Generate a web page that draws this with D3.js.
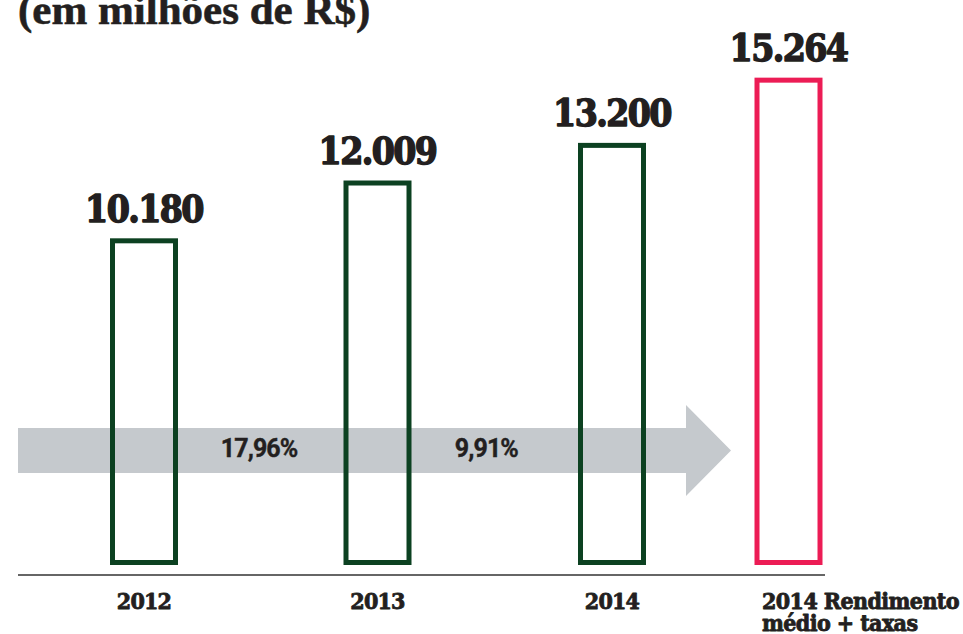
<!DOCTYPE html>
<html><head><meta charset="utf-8">
<script src="https://cdn.jsdelivr.net/npm/d3@7"></script>
<style>body{margin:0;background:#fff;overflow:hidden}</style></head>
<body>
<svg id="c" width="963" height="634"></svg>
<script>
const titleText = "(em milhões de R$)";
const categories = ["2012", "2013", "2014", "2014 Rendimento médio + taxas"];
const values = [10180, 12009, 13200, 15264];
const valueLabels = ["10.180", "12.009", "13.200", "15.264"];
const categoryLines = [["2012"], ["2013"], ["2014"], ["2014 Rendimento", "médio + taxas"]];
const growthLabels = ["17,96%", "9,91%"];
const barColors = ["#0c4121", "#0c4121", "#0c4121", "#ec1c55"];

const svg = d3.select("#c");
const baseY = 562.5;
const x = d3.scaleOrdinal().domain(categories).range([144, 377.5, 612, 788.5]);
const y = d3.scaleLinear().domain([0, 16000]).range([baseY, baseY - 0.0316 * 16000]);
const barW = 63;
const slabFont = "'DejaVu Serif Condensed', 'DejaVu Serif', serif";
const ink = "#231f20";

// title
svg.append("text").attr("x", 18).attr("y", 24)
  .attr("font-family", "'Liberation Serif', serif").attr("font-weight", "bold")
  .attr("font-size", 43).attr("fill", ink)
  .attr("stroke", ink).attr("stroke-width", 0.6).text(titleText);

// gray arrow
const ax0 = 18, ax1 = 686, axTip = 731, bTop = 428, bBot = 473, hTop = 405, hBot = 496;
svg.append("path")
  .attr("d", `M${ax0},${bTop}H${ax1}V${hTop}L${axTip},${(hTop+hBot)/2}L${ax1},${hBot}V${bBot}H${ax0}Z`)
  .attr("fill", "#c5c9cd");

// growth labels
svg.selectAll("text.g").data(growthLabels).join("text").attr("class", "g")
  .attr("x", (d, i) => (x(categories[i]) + x(categories[i + 1])) / 2 - 40)
  .attr("y", 457)
  .attr("font-family", "Roboto, sans-serif").attr("font-weight", "bold")
  .attr("font-size", 25).attr("letter-spacing", -0.9).attr("fill", ink)
  .attr("stroke", ink).attr("stroke-width", 0.4)
  .text(d => d);

// bars
svg.selectAll("rect.bar").data(values).join("rect").attr("class", "bar")
  .attr("x", (d, i) => x(categories[i]) - barW / 2)
  .attr("y", d => y(d))
  .attr("width", barW)
  .attr("height", d => baseY - y(d))
  .attr("fill", "none")
  .attr("stroke", (d, i) => barColors[i])
  .attr("stroke-width", 5);

// value labels
svg.selectAll("text.v").data(values).join("text").attr("class", "v")
  .attr("x", (d, i) => x(categories[i]))
  .attr("y", d => y(d) - 19)
  .attr("text-anchor", "middle")
  .attr("font-family", slabFont).attr("font-weight", "bold")
  .attr("font-stretch", "condensed")
  .attr("font-size", 37).attr("letter-spacing", -1.6).attr("fill", ink)
  .attr("stroke", ink).attr("stroke-width", 1.4).attr("stroke-linejoin", "round")
  .text((d, i) => valueLabels[i]);

// baseline
svg.append("line").attr("x1", 18).attr("x2", 825).attr("y1", 575).attr("y2", 575)
  .attr("stroke", "#333").attr("stroke-width", 1.5);

// category labels
categories.forEach((c, i) => {
  const lines = categoryLines[i];
  const multi = lines.length > 1;
  const t = svg.append("text")
    .attr("font-family", slabFont).attr("font-weight", "bold")
    .attr("font-stretch", "condensed")
    .attr("font-size", 23).attr("letter-spacing", multi ? -0.6 : -0.8).attr("fill", ink)
    .attr("stroke", ink).attr("stroke-width", 0.8).attr("stroke-linejoin", "round")
    .attr("text-anchor", multi ? "start" : "middle");
  lines.forEach((ln, j) => {
    t.append("tspan")
      .attr("x", multi ? x(c) - barW / 2 + 5 : x(c))
      .attr("y", 609 + j * 22)
      .text(ln);
  });
});
</script>
</body></html>
